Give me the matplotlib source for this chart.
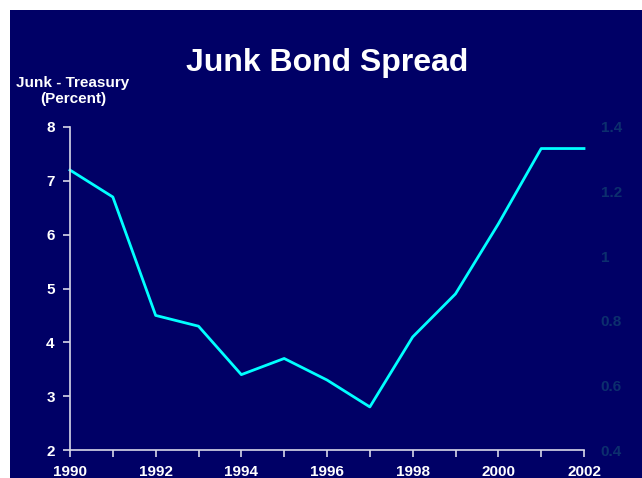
import matplotlib
matplotlib.use("Agg")
import matplotlib.pyplot as plt
from matplotlib.patches import Rectangle

# data
years = [1990, 1991, 1992, 1993, 1994, 1995, 1996, 1997, 1998, 1999, 2000, 2001, 2002]
spread = [7.2, 6.7, 4.5, 4.3, 3.4, 3.7, 3.3, 2.8, 4.1, 4.9, 6.2, 7.6, 7.6]
year_labels = ["1990", "", "1992", "", "1994", "", "1996", "", "1998", "", "2000", "", "2002"]
left_ticks = [2, 3, 4, 5, 6, 7, 8]
right_ticks = [0.4, 0.6, 0.8, 1.0, 1.2, 1.4]
right_labels = ["0.4", "0.6", "0.8", "1", "1.2", "1.4"]

navy = "#000066"
font = ["Liberation Sans", "DejaVu Sans"]
plt.rcParams["font.family"] = font

fig = plt.figure(figsize=(6.42, 4.78), dpi=100, facecolor="white")
# navy slide background with the white margin at top and left
fig.patches.append(Rectangle((10 / 642, 0), 1, 1 - 10 / 478, transform=fig.transFigure,
                             facecolor=navy, edgecolor="none", zorder=-10))

ax = fig.add_axes([70 / 642, 28 / 478, 514 / 642, 323 / 478])
ax.set_facecolor("none")
ax.plot(years, spread, color="#00FFFF", lw=2, clip_on=False)

ax.set_xlim(1990, 2002)
ax.set_ylim(2, 8)
ax.set_xticks(years)
ax.set_xticklabels(year_labels)
ax.set_yticks(left_ticks)
for s in ["top", "right"]:
    ax.spines[s].set_visible(False)
for s in ["left", "bottom"]:
    ax.spines[s].set_color("#d8d8e8")
    ax.spines[s].set_linewidth(1.2)
ax.tick_params(colors="#d8d8e8", length=5, width=1.2, labelcolor="white",
               labelsize=11, pad=6)
for lbl in ax.get_xticklabels() + ax.get_yticklabels():
    lbl.set_fontweight("bold")

ax2 = ax.twinx()
ax2.set_ylim(0.4, 1.4)
ax2.set_yticks(right_ticks)
ax2.set_yticklabels(right_labels)
for s in ax2.spines.values():
    s.set_visible(False)
ax2.tick_params(length=0, labelcolor="#0c2f6e", labelsize=11, pad=12)
for lbl in ax2.get_yticklabels():
    lbl.set_fontweight("bold")

fig.text(327 / 642, 1 - 63 / 478, "Junk Bond Spread", color="white", fontsize=23,
         fontweight="bold", ha="center", va="center")
fig.text(73 / 642, 1 - 91 / 478, "Junk - Treasury\n(Percent)", color="white",
         fontsize=11, fontweight="bold", ha="center", va="center", linespacing=1.2)

fig.savefig("out.png", dpi=100, facecolor=fig.get_facecolor())
